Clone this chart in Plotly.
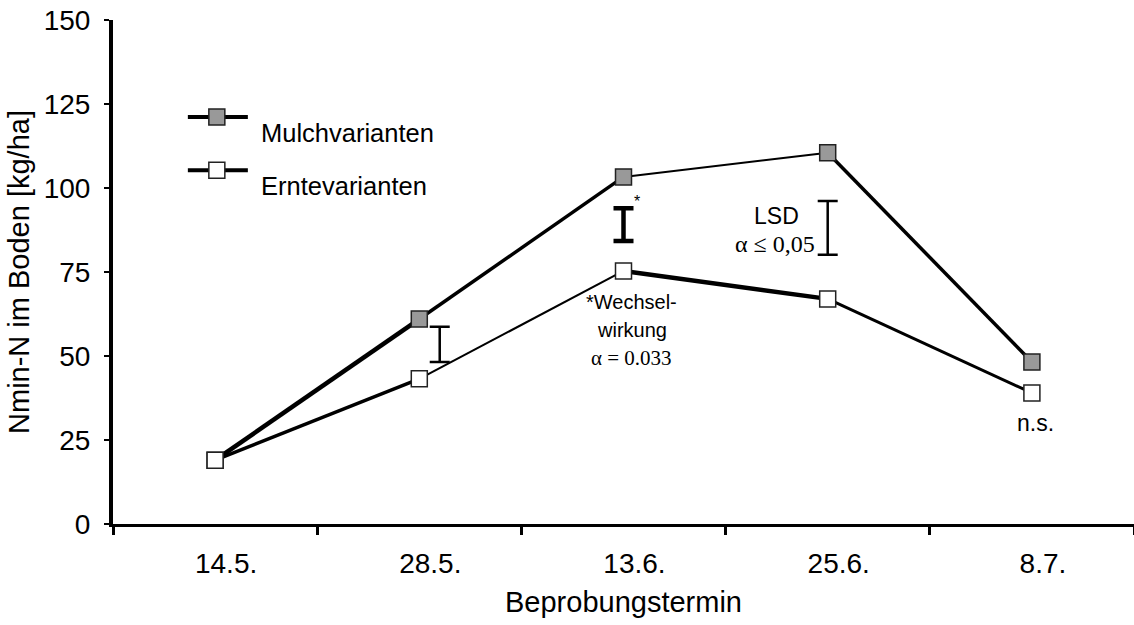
import plotly.graph_objects as go

# Data
termine = ['14.5.', '28.5.', '13.6.', '25.6.', '8.7.']
mulch = [19.0, 61.0, 103.3, 110.5, 48.2]
ernte = [19.0, 43.2, 75.3, 67.0, 39.0]

# LSD bars (x as category index, lower / upper end)
lsd_x = [1.1, 2.0, 3.0]
lsd_lo = [48.2, 84.2, 80.1]
lsd_hi = [58.7, 94.0, 96.1]

# line widths of the single segments (thick = significant difference)
mulch_width = [4.5, 3.5, 2, 3.5]
ernte_width = [3.5, 2, 4.5, 3]
lsd_thick = [2.5, 4.5, 2.5]

x_idx = list(range(len(termine)))
fig = go.Figure()

# segment lines
for vals, widths in [(mulch, mulch_width), (ernte, ernte_width)]:
    for i in range(len(vals) - 1):
        fig.add_trace(go.Scatter(
            x=x_idx[i:i + 2], y=vals[i:i + 2], mode='lines',
            line=dict(color='black', width=widths[i]),
            showlegend=False, hoverinfo='skip'
        ))

# markers
series = [('Mulchvarianten', mulch, '#999999'), ('Erntevarianten', ernte, 'white')]
for name, vals, fill in series:
    fig.add_trace(go.Scatter(
        x=x_idx, y=vals, mode='markers', name=name, showlegend=False,
        marker=dict(symbol='square', size=16, color=fill,
                    line=dict(color='#222222', width=1.5))
    ))

# LSD bars
for xp, lo, hi, th in zip(lsd_x, lsd_lo, lsd_hi, lsd_thick):
    fig.add_trace(go.Scatter(
        x=[xp], y=[(lo + hi) / 2], mode='markers',
        marker=dict(size=1, opacity=0), showlegend=False, hoverinfo='skip',
        error_y=dict(type='data', array=[(hi - lo) / 2], symmetric=True,
                     color='black', thickness=th, width=10)
    ))

sans = 'Liberation Sans, Arial, sans-serif'
serif = 'Liberation Serif, Times New Roman, serif'

# hand-drawn legend (long line + square symbol, like the original)
for (name, vals, fill), ly in zip(series, [0.8075, 0.702]):
    fig.add_shape(type='line', xref='paper', yref='paper',
                  xsizemode='pixel', xanchor=0.1027, x0=-30, x1=30,
                  y0=ly, y1=ly, line=dict(color='black', width=4))
    fig.add_shape(type='rect', xref='paper', yref='paper',
                  xsizemode='pixel', ysizemode='pixel',
                  xanchor=0.1017, yanchor=ly, x0=-8, x1=8, y0=-8, y1=8,
                  fillcolor=fill, line=dict(color='#222222', width=1.5))
    fig.add_annotation(x=0.143, y=ly, xref='paper', yref='paper',
                       xanchor='left', text=name, showarrow=False,
                       font=dict(size=25.5, family=sans, color='black'))

notes = [
    (2.065, 96.0, '*', 16, sans),
    (2.75, 91.7, 'LSD', 23, sans),
    (2.74, 83.3, 'α ≤ 0,05', 24, serif),
    (2.04, 66.1, '*Wechsel-', 20, sans),
    (2.04, 57.7, 'wirkung', 20, sans),
    (2.04, 49.4, 'α = 0.033', 21, serif),
    (4.02, 30.1, 'n.s.', 23, sans),
]
for xa, ya, txt, fs, fam in notes:
    fig.add_annotation(x=xa, y=ya, text=txt, showarrow=False,
                       font=dict(size=fs, family=fam, color='black'))

fig.update_layout(
    width=1134, height=625,
    margin=dict(l=113, r=0, t=20, b=101),
    plot_bgcolor='white', paper_bgcolor='white',
    font=dict(family=sans, size=26, color='black'),
    showlegend=False,
    xaxis=dict(
        range=[-0.5, 4.5], tickmode='array', tickvals=x_idx, ticktext=termine,
        ticks='', showline=True, linecolor='black', linewidth=3,
        showgrid=False, zeroline=False, ticklabelstandoff=12,
        ticklabelshift=11, automargin=False, tickfont=dict(size=28),
        ticklabeloverflow='allow',
        minor=dict(tickmode='linear', tick0=0.5, dtick=1, ticks='outside',
                   ticklen=8, tickwidth=3, tickcolor='black'),
        title=dict(text='Beprobungstermin', font=dict(size=29), standoff=15),
    ),
    yaxis=dict(
        range=[0, 150], tickmode='linear', tick0=0, dtick=25,
        ticks='outside', ticklen=5, tickwidth=2, tickcolor='black',
        showline=True, linecolor='black', linewidth=4,
        showgrid=False, zeroline=False, ticklabelstandoff=8,
        automargin=False, tickfont=dict(size=28), ticklabeloverflow='allow',
        title=dict(text='Nmin-N im Boden [kg/ha]', font=dict(size=29), standoff=7),
    ),
)

# drop the default 8px body margin so the figure fills the window
fig.write_html("out.html", config={'displayModeBar': False},
               post_script="document.body.style.margin='0';")
